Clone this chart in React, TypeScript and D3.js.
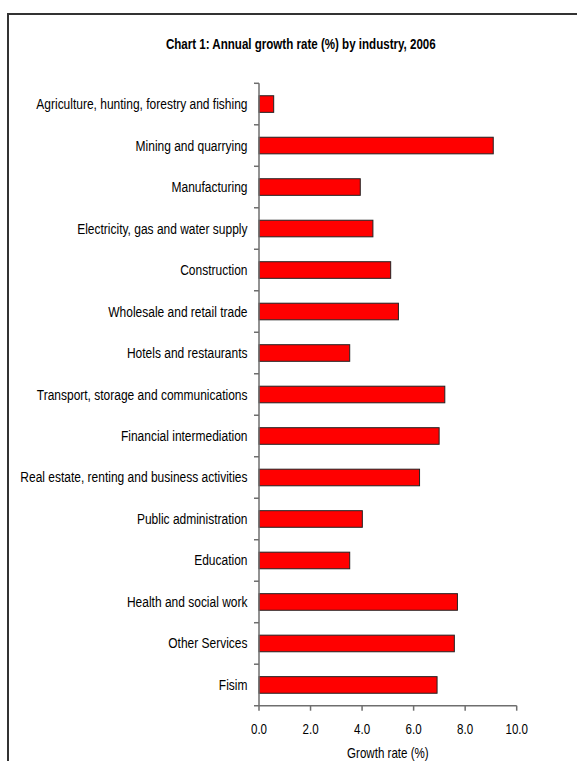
import React from "react";
import * as d3 from "d3";

const categories = [
  "Agriculture, hunting, forestry and fishing",
  "Mining and quarrying",
  "Manufacturing",
  "Electricity, gas and water supply",
  "Construction",
  "Wholesale and retail trade",
  "Hotels and restaurants",
  "Transport, storage and communications",
  "Financial intermediation",
  "Real estate, renting and business activities",
  "Public administration",
  "Education",
  "Health and social work",
  "Other Services",
  "Fisim",
];

const growthRates = [0.57, 9.09, 3.93, 4.42, 5.11, 5.41, 3.52, 7.21, 6.99, 6.23, 4.01, 3.52, 7.7, 7.58, 6.91];

const xTicks = [0, 2, 4, 6, 8, 10];

const title = "Chart 1: Annual growth rate (%) by industry, 2006";
const xTitle = "Growth rate (%)";

const W = 577;
const H = 761;
const FONT = "'Liberation Sans', Arial, sans-serif";
const NARROW = 0.827;

function NText({ x, y, anchor, size, bold, children }: { x: number; y: number; anchor: string; size: number; bold?: boolean; children: React.ReactNode }) {
  return (
    <text
      transform={`translate(${x},${y}) scale(${NARROW},1)`}
      textAnchor={anchor}
      fontSize={size}
      fontWeight={bold ? "bold" : "normal"}
      fill="#000"
    >
      {children}
    </text>
  );
}

export default function App() {
  const x = d3.scaleLinear().domain([0, 10]).range([259, 516.7]);
  const y = d3.scaleBand<string>().domain(categories).range([83.3, 705.7]).paddingInner(0.6).paddingOuter(0.3);
  const band = d3.scaleBand<string>().domain(categories).range([83.3, 705.7]);
  const axisColor = "#6e6e6e";
  const x0 = x(0);
  const yBottom = 705.7;
  const yTop = 83.3;

  return (
    <svg
      width={W}
      height={H}
      style={{ position: "absolute", left: 0, top: 0, background: "#fff" }}
      fontFamily={FONT}
    >
      <rect x={0} y={0} width={W} height={H} fill="#fff" />
      {/* frame */}
      <path d={`M8,${H + 2} L8,14 L${W + 2},14`} fill="none" stroke="#333" strokeWidth={2} />

      <NText x={300.8} y={48.6} anchor="middle" size={14} bold>
        {title}
      </NText>

      {/* bars */}
      {categories.map((c, i) => (
        <rect
          key={c}
          x={x0}
          y={y(c)!}
          width={x(growthRates[i]) - x0}
          height={y.bandwidth()}
          fill="#ff0000"
          stroke="#222"
          strokeWidth={1}
        />
      ))}

      {/* y axis */}
      <line x1={x0} x2={x0} y1={yTop} y2={yBottom} stroke={axisColor} strokeWidth={1.5} />
      {categories.map((c) => (
        <line key={"t" + c} x1={x0 - 5} x2={x0} y1={band(c)!} y2={band(c)!} stroke={axisColor} strokeWidth={1.5} />
      ))}
      {categories.map((c) => (
        <NText key={"l" + c} x={x0 - 11.5} y={band(c)! + band.bandwidth() / 2 + 5} anchor="end" size={14.5}>
          {c}
        </NText>
      ))}

      {/* x axis */}
      <line x1={x0 - 5} x2={x(10)} y1={yBottom} y2={yBottom} stroke={axisColor} strokeWidth={1.5} />
      {xTicks.map((t) => (
        <g key={"x" + t}>
          <line x1={x(t)} x2={x(t)} y1={yBottom} y2={yBottom + 5} stroke={axisColor} strokeWidth={1.5} />
          <NText x={x(t)} y={734} anchor="middle" size={14}>
            {d3.format(".1f")(t)}
          </NText>
        </g>
      ))}
      <NText x={(x(0) + x(10)) / 2} y={757.5} anchor="middle" size={14}>
        {xTitle}
      </NText>
    </svg>
  );
}
